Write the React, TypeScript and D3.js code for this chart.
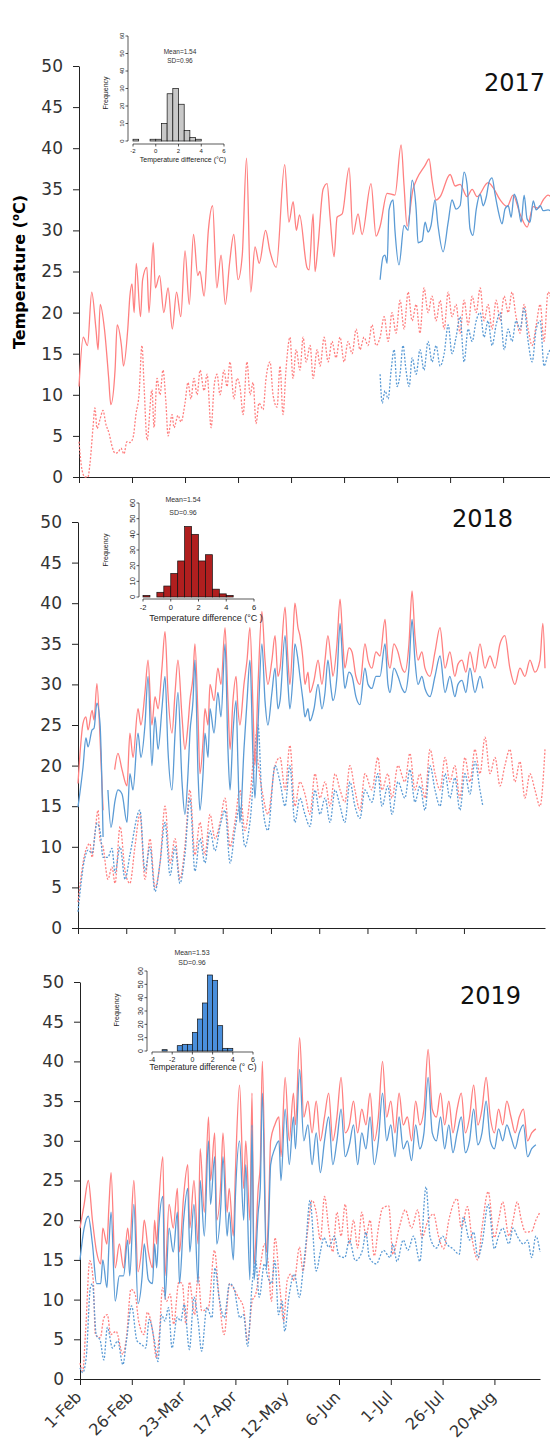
import React, { useEffect, useRef } from "react";
import * as d3 from "d3";

type Pt = [number, number];

// x axis: days since 1 Feb, ticks every 25 days
const tickDays = [0, 25, 50, 75, 100, 125, 150, 175, 200];
const tickLabels = ["1-Feb", "26-Feb", "23-Mar", "17-Apr", "12-May", "6-Jun", "1-Jul", "26-Jul", "20-Aug"];
const yTicks = [0, 5, 10, 15, 20, 25, 30, 35, 40, 45, 50];

// ---- 2017 (red = observed, blue = simulated; solid = max, dotted = min)
const maxObs17: Pt[] = [[0,11],[2,17],[4,16],[6,22.5],[8,18],[9,15.5],[10,21],[12,18],[14,12],[15,8.8],[17,13],[18,18.5],[20,16],[21,13.5],[23,18],[24,22],[25,23.5],[26,20],[27,26],[29,19.5],[30,24],[32,25.5],[33,20],[35,28.5],[36,23],[38,24.5],[40,20],[42,23],[44,18],[46,22.5],[48,19.5],[50,27.5],[52,21],[54,29.5],[56,24.5],[57,25],[59,22],[61,30],[63,33],[65,23],[67,27],[69,21],[71,26],[73,29.5],[75,24],[77,27],[79,38.8],[81,22.5],[83,28],[85,26],[88,30],[90,27.5],[93,25.5],[97,38],[99,31],[101,33.5],[102.5,30],[104,31.9],[107.5,25.5],[108.5,25.2],[110.4,32],[111.3,25],[112.7,28.1],[115.1,35],[117,35.7],[118.4,31.6],[120.3,26.8],[121.7,31.6],[124.1,32],[127.4,37.6],[129.2,29.5],[131.6,32],[133.5,29.5],[137.7,35.7],[140.1,29.3],[142,30.5],[145.3,34.5],[149,34.3],[151.9,40.4],[153.3,35.4],[154.7,30.5],[157.5,35],[159.4,36.3],[163.2,37.9],[165.1,38.7],[166.5,36.1],[168.4,33.7],[170.3,34.1],[175,36.8],[177.4,35.4],[179.7,35.6],[183,34.1],[185.4,35],[187.7,34.1],[192.9,35.8],[195.3,35.2],[198.6,33.7],[201.9,32.9],[204.7,34.3],[208,32],[211.3,30.4],[214.2,32.9],[216.5,32.7],[218.9,33.7],[221.2,34.3],[224,33.5]];
const maxSim17: Pt[] = [[142,24],[143.4,26.8],[144.3,27],[145.3,26],[146.2,32.5],[148.1,33.7],[149,30],[150.9,25.8],[153.3,30.6],[155.2,30],[157.1,36.1],[159,32.5],[159.9,28.5],[161.8,28.7],[163.2,31],[164.6,29.8],[166,30.6],[167.9,33.7],[169.3,30.6],[171.7,27.4],[174.1,31],[175.9,33.7],[177.8,32.6],[179.7,33],[181.6,37.1],[183,35.6],[184.4,30.2],[185.8,29.4],[187.3,32.5],[189.2,34.4],[190.6,33],[192,34],[193.4,35.9],[194.8,36.4],[196.2,34.4],[197.6,32.5],[199.5,30.8],[200.9,32.6],[202.4,33],[203.8,31.6],[205.2,34.4],[207.1,33],[208.5,31],[209.9,34.3],[211.3,31.4],[212.7,31],[214.2,33.6],[215.6,32.5],[217.5,33],[218.9,32.4],[221.2,32.5],[224,32]];
const minObs17: Pt[] = [[0,4.3],[1.4,0.9],[2.8,0],[4.2,0],[5.2,1.7],[6.6,6],[7.5,8.4],[8.5,5.9],[9.9,7],[11.3,8.1],[12.7,6.4],[14.2,5.3],[15.6,3.7],[17,2.9],[18.4,3],[19.8,3.5],[21.2,2.8],[22.6,4.3],[24.1,4.2],[25.5,4.8],[26.9,7.7],[28.3,10],[29.7,16],[30.7,11],[32.1,4.5],[34.4,10.6],[35.4,6],[36.8,12],[38.2,10],[39.6,13],[41,9],[42,5],[43.9,7.6],[44.8,6],[46.7,7.5],[48.1,6.7],[50,9],[51.4,11.5],[52.8,9.5],[54.2,12],[55.7,10],[57.1,13],[59,10.5],[60.4,12.5],[62.3,6],[63.7,11],[65.1,12.5],[66.5,10],[68.4,13],[69.8,11],[71.2,14],[73.1,9.5],[74.5,12],[75.9,11],[77.4,7.6],[79.2,14],[80.7,10],[82.1,11.5],[83.5,6.5],[84.9,9],[86.8,8.2],[88.2,12],[90.1,14],[91.5,10],[93.4,8.5],[94.8,13.5],[96.2,7.6],[97.6,13],[99.5,17],[100.9,12],[102.4,15.5],[104.2,13],[105.7,17],[107.1,14],[109,16],[110.4,12],[112.3,15.5],[113.7,13.5],[115.6,17],[117.5,14],[119.3,16.5],[121.2,14.5],[123.1,17],[125,14],[126.9,16.5],[128.8,15],[130.7,18],[132.5,15.5],[134.4,17],[136.3,16],[138.2,18.5],[140.1,16],[142,17],[143.9,19.5],[145.8,16.5],[147.6,20],[149.5,17.5],[151.4,21.5],[153.3,18],[155.2,22.5],[157.1,19],[159,21],[160.8,17.5],[162.7,23],[164.6,20],[166.5,22],[168.4,19],[170.3,21.5],[172.2,18],[174.1,22.5],[175.9,19.5],[177.8,21],[179.7,17.5],[181.6,21.5],[183.5,18.5],[185.4,22],[187.3,20],[189.2,23],[191,19],[192.9,21],[194.8,18],[196.7,21.5],[198.6,19],[200.5,22],[202.4,20],[204.2,22.5],[206.1,19.5],[208,17.5],[209.9,21],[211.8,18],[213.7,16],[215.6,18.5],[217.5,21],[219.3,16.5],[221.2,22.5],[224,20]];
const minSim17: Pt[] = [[142,12.5],[143,9],[144.3,10.5],[145.8,9.5],[147.2,13],[148.6,15.5],[150,11],[151.4,12.5],[152.8,16],[154.2,13],[155.7,11],[157.1,14.5],[159,12.5],[160.8,15.5],[162.7,13],[164.6,16.5],[166.5,14],[168.4,16],[170.3,13.5],[172.2,15],[174.1,18.5],[175.9,15],[177.8,17],[179.7,19.5],[181.6,14],[183.5,18],[185.4,16.5],[187.3,19],[189.2,20],[191,17],[192.9,19],[194.8,16],[196.7,18.5],[198.6,20],[200.5,15.5],[202.4,18],[204.2,16.5],[206.1,19],[208,18],[209.9,20.5],[211.8,16.5],[213.7,14],[215.6,18],[217.5,19],[219.3,13.5],[221.2,15],[224,16]];

// ---- 2018
const maxObs18: Pt[] = [[0,17.8],[2.6,25.2],[4.1,26],[5.2,24.4],[7.3,26.8],[8.3,25.6],[9.8,30.1],[11.4,23.5],[13,14.5],[14,NaN],[19,19.5],[20.7,21.5],[22.8,19.5],[25.4,17.5],[26.9,24],[28.5,21],[31.1,27],[32.6,25],[34.7,29],[36.3,33],[38.3,25],[39.9,28.5],[41.5,27],[43.5,32],[45.1,36.5],[46.6,29],[48.7,24],[50.3,29],[51.8,33],[53.9,26],[55.4,22],[57,25],[58,28],[59.6,31],[60.6,35],[62.2,26],[63.2,19],[64.8,23],[65.8,27],[67.4,25],[68.4,30],[70.5,28],[72.5,32],[74.1,30],[76.2,37],[77.7,28],[78.8,22],[80.3,28],[81.9,31],[82.9,27],[83.9,25],[86,30],[87.6,33],[89.1,37],[90.7,27],[91.7,20],[93.3,30],[95.3,39],[96.9,33],[98.4,30],[100.5,33],[102.1,36],[103.6,31],[104.7,32],[107.3,39.5],[108.8,33],[109.8,30],[111.4,36],[112.4,40],[114,37],[115,36],[116.6,33],[117.6,30],[119.2,31.5],[120.2,29],[122.3,30.5],[124.4,33],[126.4,30],[128,33],[129.5,36],[131.1,33],[132.1,31],[134.2,35],[135.8,40.5],[137.3,35],[138.3,32],[140.4,34.5],[142,34],[144,31],[146.1,30],[148.7,35],[150.3,33],[152.3,32],[154.4,34],[156.5,33.5],[159.1,38],[160.6,33],[161.7,32],[163.7,35],[165.8,34],[167.9,32],[169.4,31.5],[171.5,35],[173.1,41.5],[174.6,36],[176.2,33],[178.2,34],[179.8,32],[182.4,31],[185,34],[187.6,37],[190.2,32],[192.7,34],[195.3,31],[196.9,32.5],[199,33],[201,31.5],[203.1,34],[205.7,31.5],[208.3,35],[210.9,32],[213.5,33.5],[216.1,32],[218.7,35],[221.2,36],[223.8,32],[226.4,30],[229,32],[231.6,31],[234.2,33],[236.8,31.5],[239.4,33],[240.9,37.5],[242,32]];
const maxSim18: Pt[] = [[0,14.9],[2.6,19.8],[4.1,23.4],[5.2,22.3],[7.3,24.4],[8.3,24.6],[9.8,27.7],[11.4,25.2],[13,11.2],[14,NaN],[15.5,17],[17.1,12.4],[19.2,15.7],[20.7,17],[22.8,16.5],[25.4,13],[26.9,19],[28.5,17],[31.1,24],[32.6,21],[34.7,25],[36.3,31],[38.3,20],[39.9,26],[41.5,22],[43.5,27],[45.1,31],[46.6,22],[48.7,17],[50.3,24],[51.8,29],[53.9,18],[55.4,14],[57,19],[58,24],[59.6,28],[60.6,33],[62.2,19],[63.2,14.5],[64.8,19],[65.8,24],[67.4,21],[68.4,27],[70.5,24],[72.5,29],[74.1,26],[76.2,35],[77.7,22],[78.8,17],[80.3,24],[81.9,28],[82.9,20],[83.9,13],[86,22],[87.6,28],[89.1,33],[90.7,21],[91.7,16],[93.3,25],[95.3,35],[96.9,28],[98.4,25],[100.5,29],[102.1,32],[103.6,27],[104.7,28],[107.3,36],[108.8,30],[109.8,27],[111.4,31],[112.4,35],[114,33],[115,31],[116.6,28],[117.6,26],[119.2,27],[120.2,25.5],[122.3,27],[124.4,30],[126.4,27],[128,29],[129.5,33],[131.1,29.5],[132.1,28],[134.2,31],[135.8,37.5],[137.3,32],[138.3,29.5],[140.4,31.5],[142,31],[144,28.5],[146.1,27.5],[148.7,32],[150.3,30],[152.3,29.5],[154.4,31],[156.5,31],[159.1,35],[160.6,30],[161.7,29],[163.7,32],[165.8,31],[167.9,29.5],[169.4,29],[171.5,32],[173.1,38],[174.6,33],[176.2,30],[178.2,31],[179.8,29.5],[182.4,28.5],[185,31],[187.6,33.5],[190.2,29],[192.7,31],[195.3,28.5],[196.9,30],[199,30.5],[201,29],[203.1,32],[205.7,29],[208.3,31],[209.8,29.5]];
const minObs18: Pt[] = [[0,3.2],[3.6,9.2],[6.2,10.4],[7.3,8.7],[8.8,11.7],[10.4,14.5],[11.4,10.8],[13,10],[15.5,6],[17.6,7.5],[19.2,5.5],[21.8,12.5],[24.4,7],[26.9,5.5],[29.5,10],[32.1,14],[34.7,6],[37.3,11],[39.9,5],[42.5,8],[45.1,15],[47.7,8],[50.3,11],[52.8,6],[55.4,10],[58,17],[60.6,9],[63.2,13],[65.8,9],[68.4,14],[71,11],[73.6,13],[76.2,16],[78.8,10],[81.3,13],[83.9,17],[86.5,12],[89.1,16],[91.7,22],[95.3,17],[98.4,14],[102.1,20],[104.7,21],[107.3,17],[109.8,22.5],[112.4,15],[115,18],[117.6,16.5],[120.2,14],[122.8,19],[125.4,16],[128,18],[130.6,15],[133.2,19],[135.8,17],[138.3,15.5],[140.9,20],[143.5,17],[146.1,14.5],[148.7,19],[152.3,17],[155.4,21],[157.5,17],[160.6,19],[162.7,16],[165.8,20],[169.4,18],[172,21.5],[174.6,17],[177.2,19],[179.8,16],[182.4,22],[185,19],[187.6,17],[190.2,21],[192.7,18],[195.3,20],[197.9,16],[200.5,21],[203.1,18],[205.7,22],[208.3,19],[210.9,23.5],[213.5,19],[216.1,21],[218.7,17.5],[221.2,20],[223.8,22],[226.4,18],[229,20.5],[231.6,16],[234.2,19],[236.8,17],[239.4,15],[242,22]];
const minSim18: Pt[] = [[0,2],[3.6,8.7],[5.2,9.6],[7.3,9.2],[9.8,12.9],[11.4,12],[13,8.7],[15.5,8.7],[17.6,9.8],[19.2,6.8],[21.8,10],[24.4,6],[26.9,9],[32.1,14.5],[34.7,7],[37.3,10],[39.9,4.5],[42.5,8],[45.1,13],[47.7,6.5],[50.3,10],[52.8,5.5],[55.4,9],[58,16],[60.6,7],[63.2,11],[65.8,8],[68.4,12],[71,9.5],[73.6,12.5],[76.2,14.5],[78.8,8],[81.3,12],[83.9,15],[86.5,10],[89.1,13],[93.3,25],[95.3,16],[98.4,12],[102.1,20],[104.7,18],[107.3,15],[109.8,20],[112.4,13],[115,16],[117.6,14],[120.2,12.5],[122.8,17],[125.4,14],[128,16],[130.6,13],[133.2,17],[135.8,15],[138.3,13],[140.9,18],[143.5,15],[146.1,13.5],[148.7,17],[152.3,15.5],[155.4,19],[157.5,15],[160.6,17.5],[162.7,14],[165.8,18],[169.4,16],[172,19.5],[174.6,15.5],[177.2,17.5],[179.8,14.5],[182.4,20],[185,17],[187.6,15],[190.2,19],[192.7,16],[195.3,18.5],[197.9,14.5],[200.5,19],[203.1,16.5],[205.7,20.5],[208.3,17],[209.8,15]];

// ---- 2019
const maxObs19: Pt[] = [[0,19],[2,22],[4,25],[6,20],[8,16],[10,14.5],[11,19],[13,17],[14,22],[15,26],[17,14],[19,17],[21,14],[23,19],[24,17],[26,25],[28,13.5],[30,17],[31,20],[33,16],[35,14],[36,20],[37,17],[38,22],[40,28],[41,13],[43,22],[45,19],[47,24],[48,16],[50,23],[52,27],[53,19],[55,25],[57,17],[58,29],[60,21],[62,33],[63,25],[65,31],[66,20],[68,25],[69,31],[71,21],[72,24],[74,18],[75,26],[77,37],[79,24],[80,30],[82,20],[83,36],[84,14.5],[86,24],[87,27],[88,40],[90,16],[91,21],[92,30],[94,32],[96,33],[97,28],[99,38],[101,30],[103,36],[104,32],[106,43],[108,33],[110,35],[112,31],[114,35],[116,30],[118,33],[120,36],[122,30],[124,33],[126,38],[128,31],[130,32],[132,35],[134,31],[136,34],[138,32],[140,36],[142,30],[144,33],[146,40],[148,33],[150,35],[152,31],[154,36],[156,32],[158,33],[160,30],[162,35],[164,32],[166,34],[168,41.5],[170,34],[172,33],[174,36],[176,32],[178,35],[180,31],[182,34],[184,36],[186,31],[188,33],[190,37],[192,32],[194,34],[196,38],[198,33],[200,31],[202,34],[204,32],[206,35],[208,33],[210,31],[212,33],[214,34],[216,30],[218,31],[220,31.5]];
const maxSim19: Pt[] = [[0,15],[2,19],[4,20.5],[6,17],[8,12],[10,12],[11,15],[13,11.5],[14,17],[15,21],[17,9.8],[19,13],[21,13],[23,17.5],[24,13],[26,22],[28,9.5],[30,13],[31,17],[33,12.5],[35,12],[36,17],[37,14],[38,19],[40,23],[41,10],[43,19],[45,16],[47,21],[48,12],[50,20],[52,24],[53,16],[55,22],[57,12],[58,25],[60,18],[62,30],[63,22],[65,28],[66,17],[68,22],[69,28],[71,18],[72,21],[74,15],[75,23],[77,30],[79,20],[80,27],[82,12.5],[83,32],[84,12.5],[86,21],[87,24],[88,36],[90,14],[91,19],[92,27],[94,29],[96,30],[97,25],[99,34],[101,27],[103,33],[104,29],[106,39],[108,30],[110,32],[112,27],[114,31],[116,26],[118,30],[120,33],[122,27],[124,30],[126,34],[128,28],[130,29.5],[132,32],[134,27],[136,31],[138,29],[140,33],[142,27],[144,30],[146,36],[148,30],[150,32],[152,28],[154,33],[156,29],[158,30],[160,27.5],[162,32],[164,29],[166,31],[168,38],[170,31],[172,30],[174,33],[176,29],[178,32],[180,28.5],[182,31],[184,33],[186,28.5],[188,30],[190,34],[192,29.5],[194,31],[196,35],[198,30],[200,29],[202,31.5],[204,30],[206,32],[208,30.5],[210,29],[212,31],[214,32],[216,28],[218,29],[220,29.5]];
const minObs19: Pt[] = [[0,2],[1.3,1],[2.7,6],[4.7,14.9],[6.4,12.4],[7.4,5.6],[9.8,5.2],[11.5,7.7],[13.2,8.1],[14.8,5.6],[17.4,6],[20.7,3.1],[22.4,5.2],[24.6,11.3],[26.6,10.7],[28.3,7.3],[30.9,5.6],[32.5,8.4],[35.1,6],[36.8,2.7],[38.4,6],[39.8,11.5],[41.8,9.8],[43.5,10.7],[45.2,6.9],[47.7,12.2],[49.4,12],[51.1,6.9],[52.8,12.2],[55.3,8.1],[57,13.2],[58.7,8.6],[62,9],[64.9,16.2],[67.1,10.3],[69.6,5.6],[72.2,12],[73.9,11.5],[76.4,10.3],[78.9,9],[80.9,4.8],[83.1,9.8],[84.8,10.7],[87.4,14.9],[89,17],[90.7,14.9],[92.4,9.8],[94.1,17.8],[96.6,11.1],[98.3,7.3],[100,12.4],[101.7,13.2],[103.4,12.4],[105.9,16.6],[107.6,13.6],[110,19],[112,22.5],[114,21],[116,17.5],[118,23],[120,19],[122,16],[124,21],[126,18],[128,22],[130,17],[132,20],[134,16.5],[136,21],[138,18],[140,20],[142,15.5],[144,19],[146,21.5],[149,21.8],[151,15.7],[154,19],[157,21.3],[160,19],[163,21.3],[165,17.8],[168,20],[170.6,20.8],[173,18],[175.5,16.4],[178,20],[182,22.7],[184,19],[187,21.7],[189,18],[192,15],[194,19],[197,23.6],[200,17.8],[202,20],[204,22.3],[207,18],[209,20],[211,22.3],[213,20],[215,18.5],[218,18.6],[220,20],[222,21]];
const minSim19: Pt[] = [[0,1.4],[1.3,0.8],[3,2.7],[5,11.5],[6,12],[7.8,5.6],[9.8,4.8],[11.5,2.4],[13.2,6.5],[15.7,3.9],[18.2,4.8],[20.7,1.8],[22.4,4.8],[24.9,9.2],[27.5,4.8],[30,4.3],[31.7,3.9],[33.4,7.5],[35.9,4.8],[37.6,2.2],[39.3,8.1],[41,7.3],[42.7,9],[44.4,3.9],[46.9,7.8],[48.6,7.3],[50.3,9.4],[52.8,3.7],[55,10.3],[57,7.3],[58.7,3.5],[61.2,9],[63.7,7.7],[65.1,14],[67.1,10.3],[69.6,7.7],[72.2,12],[74.2,11.5],[77.2,7.7],[78.9,8.1],[80.9,4.1],[83.1,12],[84.8,14.9],[86.5,10.3],[89,14.5],[90.7,12.8],[92.4,12],[94.1,14.9],[95.8,8.1],[97.5,9.8],[98.8,6],[100.8,10.3],[103.4,13.2],[105.9,10.3],[107.6,13.6],[109,17],[111,22.5],[114,13.6],[116,16],[117.7,17.8],[120,16.6],[122.8,18],[125,15.5],[127.8,15.3],[130,17.5],[132.9,14.9],[136.3,16.2],[138,18.5],[139.6,15.3],[143,14.5],[146.4,16.2],[149.7,15.3],[151,17],[153,14.8],[156,17.5],[158.2,16.2],[161,18],[164,14.8],[167,24.2],[169,17.8],[172,16.5],[175,18],[177,17],[180,16.4],[183,15.7],[185,20.4],[188,17.5],[190,18.5],[192,15.3],[194,17],[197,22],[200,16.4],[202,18],[204,19],[207,17],[209,19],[211,18],[214,17],[216,17.5],[218,15.3],[220,18],[222,16]];

// ---- histograms of (observed - simulated) temperature difference
const histBins17 = [-2, -1.5, -1, -0.5, 0, 0.5, 1, 1.5, 2, 2.5, 3, 3.5, 4, 4.5, 5, 5.5];
const histCounts17 = [1, 0, 0, 1, 1, 10, 27, 30, 21, 6, 2, 1, 0, 0, 0, 0];
const histBins18 = [-2, -1.5, -1, -0.5, 0, 0.5, 1, 1.5, 2, 2.5, 3, 3.5, 4, 4.5, 5, 5.5];
const histCounts18 = [1, 0, 3, 7, 15, 23, 45, 40, 23, 27, 5, 2, 1, 0, 0, 0];
const histBins19 = [-4, -3.5, -3, -2.5, -2, -1.5, -1, -0.5, 0, 0.5, 1, 1.5, 2, 2.5, 3, 3.5, 4, 4.5, 5, 5.5];
const histCounts19 = [0, 0, 1, 0, 0, 4, 5, 5, 14, 24, 36, 57, 53, 19, 2, 2, 0, 0, 0, 0];
const histYTicks = [0, 10, 20, 30, 40, 50, 60];

const RED = "#ff8080";
const BLUE = "#5b9bd5";

const panels = [
  {
    year: "2017", yearX: 545, yearY: 91, left: 79, right: 554, dayMax: 224, top: 66, bottom: 477, labels: false,
    series: [minObs17, minSim17, maxObs17, maxSim17],
    hist: {
      bins: histBins17, counts: histCounts17, fill: "#c8c8c8", xTicks: [-2, 0, 2, 4, 6], xDom: [-2, 6],
      x0: 133, x1: 224, y0: 141, y1: 36, axisX: 128, axisY: 144, tickFont: 6,
      mean: "Mean=1.54", sd: "SD=0.96", statX: 180, meanY: 54, sdY: 63, statFont: 6.5,
      freqX: 108, freqY: 93, labX: 183, labY: 162, labFont: 7, label: "Temperature difference  (\u00b0C)",
    },
  },
  {
    year: "2018", yearX: 513, yearY: 527, left: 78, right: 545, dayMax: 242, top: 522, bottom: 928, labels: false,
    series: [minObs18, minSim18, maxObs18, maxSim18],
    hist: {
      bins: histBins18, counts: histCounts18, fill: "#b01f1f", xTicks: [-2, 0, 2, 4, 6], xDom: [-2, 6],
      x0: 143, x1: 254, y0: 597, y1: 503, axisX: 139, axisY: 599, tickFont: 7.5,
      mean: "Mean=1.54", sd: "SD=0.96", statX: 183, meanY: 502, sdY: 515, statFont: 7,
      freqX: 108, freqY: 550, labX: 206, labY: 621, labFont: 9, label: "Temperature difference (\u00b0C )",
    },
  },
  {
    year: "2019", yearX: 521, yearY: 1004, left: 80, right: 540, dayMax: 222, top: 982, bottom: 1379, labels: true,
    series: [minObs19, minSim19, maxObs19, maxSim19],
    hist: {
      bins: histBins19, counts: histCounts19, fill: "#4a8fdc", xTicks: [-4, -2, 0, 2, 4, 6], xDom: [-4, 6],
      x0: 152, x1: 253, y0: 1051, y1: 971, axisX: 147, axisY: 1052, tickFont: 7,
      mean: "Mean=1.53", sd: "SD=0.96", statX: 192, meanY: 955, sdY: 965, statFont: 7,
      freqX: 119, freqY: 1010, labX: 203, labY: 1070, labFont: 8.5, label: "Temperature difference (\u00b0 C)",
    },
  },
];

function drawHist(g: any, h: any) {
  const x = d3.scaleLinear().domain(h.xDom).range([h.x0, h.x1]);
  const y = d3.scaleLinear().domain([0, 60]).range([h.y0, h.y1]);
  const font = "Liberation Sans, Arial, sans-serif";

  g.selectAll(".bar")
    .data(h.bins.map((b: number, i: number) => [b, h.counts[i]]))
    .enter()
    .append("rect")
    .attr("x", (d: number[]) => x(d[0]))
    .attr("y", (d: number[]) => y(d[1]))
    .attr("width", (d: number[]) => x(d[0] + 0.5) - x(d[0]))
    .attr("height", (d: number[]) => y(0) - y(d[1]))
    .attr("fill", h.fill)
    .attr("stroke", "#111")
    .attr("stroke-width", 0.7);

  // y axis
  g.append("line").attr("x1", h.axisX).attr("x2", h.axisX).attr("y1", y(0)).attr("y2", y(60))
    .attr("stroke", "#111").attr("stroke-width", 0.7);
  histYTicks.forEach((t) => {
    g.append("line").attr("x1", h.axisX - 2.5).attr("x2", h.axisX).attr("y1", y(t)).attr("y2", y(t))
      .attr("stroke", "#111").attr("stroke-width", 0.7);
    g.append("text")
      .attr("transform", `translate(${h.axisX - 4},${y(t)}) rotate(-90)`)
      .attr("text-anchor", "middle")
      .style("font-family", font).style("font-size", `${h.tickFont}px`).attr("fill", "#222")
      .text(t);
  });

  // x axis
  g.append("line").attr("x1", x(h.xTicks[0])).attr("x2", x(h.xTicks[h.xTicks.length - 1]))
    .attr("y1", h.axisY).attr("y2", h.axisY).attr("stroke", "#111").attr("stroke-width", 0.7);
  h.xTicks.forEach((t: number) => {
    g.append("line").attr("x1", x(t)).attr("x2", x(t)).attr("y1", h.axisY).attr("y2", h.axisY + 2.5)
      .attr("stroke", "#111").attr("stroke-width", 0.7);
    g.append("text").attr("x", x(t)).attr("y", h.axisY + 3 + h.tickFont)
      .attr("text-anchor", "middle")
      .style("font-family", font).style("font-size", `${h.tickFont}px`).attr("fill", "#222")
      .text(t);
  });

  g.append("text").attr("x", h.labX).attr("y", h.labY).attr("text-anchor", "middle")
    .style("font-family", font).style("font-size", `${h.labFont}px`).attr("fill", "#222").text(h.label);
  g.append("text")
    .attr("transform", `translate(${h.freqX},${h.freqY}) rotate(-90)`)
    .attr("text-anchor", "middle")
    .style("font-family", font).style("font-size", "7px").attr("fill", "#222").text("Frequency");
  g.append("text").attr("x", h.statX).attr("y", h.meanY).attr("text-anchor", "middle")
    .style("font-family", font).style("font-size", `${h.statFont}px`).attr("fill", "#333").text(h.mean);
  g.append("text").attr("x", h.statX).attr("y", h.sdY).attr("text-anchor", "middle")
    .style("font-family", font).style("font-size", `${h.statFont}px`).attr("fill", "#333").text(h.sd);
}

export default function App() {
  const svgRef = useRef<SVGSVGElement>(null);

  useEffect(() => {
    const svg = d3.select(svgRef.current);
    svg.selectAll("*").remove();
    const tickFont = "DejaVu Sans, sans-serif";

    panels.forEach((p) => {
      const g = svg.append("g");
      const x = d3.scaleLinear().domain([0, p.dayMax]).range([p.left, p.right]);
      const y = d3.scaleLinear().domain([0, 50]).range([p.bottom, p.top]);

      // y axis
      const ya = g.append("g").attr("transform", `translate(${p.left},0)`)
        .call(d3.axisLeft(y).tickValues(yTicks).tickSize(6).tickSizeOuter(0).tickPadding(10));
      ya.select(".domain").attr("stroke", "#222");
      ya.selectAll(".tick line").attr("stroke", "#222");
      ya.selectAll("text").style("font-family", tickFont).style("font-size", "17px").attr("fill", "#333");

      // x axis
      const xa = g.append("g").attr("transform", `translate(0,${p.bottom})`)
        .call(d3.axisBottom(x).tickValues(tickDays).tickSize(6).tickSizeOuter(0)
          .tickFormat((d, i) => (p.labels ? tickLabels[i] : "")));
      xa.select(".domain").attr("stroke", "#222");
      xa.selectAll(".tick line").attr("stroke", "#222");
      if (p.labels) {
        xa.selectAll("text")
          .attr("y", 0).attr("x", 0).attr("dy", "0.35em")
          .attr("transform", "translate(-2,15) rotate(-45)")
          .style("text-anchor", "end")
          .style("font-family", tickFont).style("font-size", "16px").attr("fill", "#333");
      }

      // temperature series
      const line = d3.line<Pt>()
        .defined((d) => !isNaN(d[1]))
        .x((d) => x(d[0]))
        .y((d) => y(d[1]))
        .curve(d3.curveMonotoneX);
      const styles = [
        { color: RED, dash: "2,1.6" },
        { color: BLUE, dash: "2,1.6" },
        { color: RED, dash: null },
        { color: BLUE, dash: null },
      ];
      p.series.forEach((s, i) => {
        g.append("path")
          .datum(s)
          .attr("fill", "none")
          .attr("stroke", styles[i].color)
          .attr("stroke-width", 1.3)
          .attr("stroke-dasharray", styles[i].dash)
          .attr("d", line);
      });

      g.append("text").attr("x", p.yearX).attr("y", p.yearY).attr("text-anchor", "end")
        .style("font-family", tickFont).style("font-size", "24px").attr("fill", "#111").text(p.year);

      drawHist(g.append("g"), p.hist);
    });

    // y axis title
    const t = svg.append("text")
      .attr("transform", "translate(25,272) rotate(-90)")
      .attr("text-anchor", "middle")
      .style("font-family", tickFont).style("font-size", "16px").style("font-weight", "bold").attr("fill", "#000");
    t.append("tspan").text("Temperature (");
    t.append("tspan").attr("dy", -6).style("font-size", "10px").text("o");
    t.append("tspan").attr("dy", 6).text("C)");
  }, []);

  return (
    <svg
      ref={svgRef}
      width={550}
      height={1446}
      style={{ position: "absolute", left: 0, top: 0, background: "#fff" }}
    />
  );
}
